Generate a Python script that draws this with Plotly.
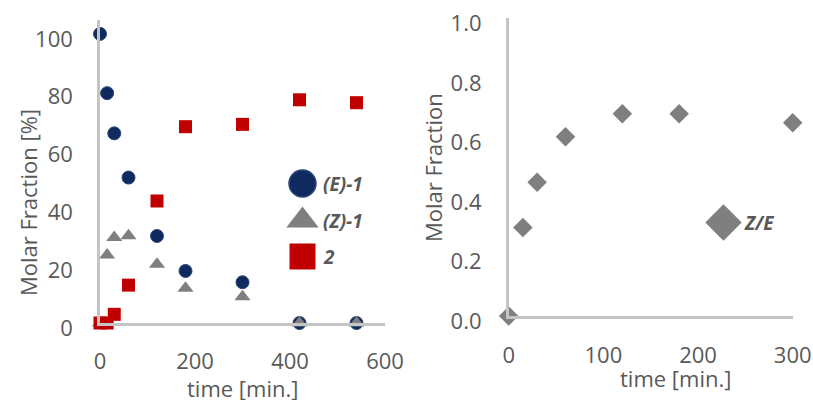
import plotly.graph_objects as go

# ---- data ----
time_left = [0, 15, 30, 60, 120, 180, 300, 420, 540]
e1 = [100, 79.5, 65.6, 50.3, 30.1, 18.0, 14.1, 0, 0]
z1 = [0, 23.5, 29.6, 30.2, 20.3, 12.0, 9.1, 0, 0]
p2 = [0, 0, 3.0, 13.1, 42.2, 67.9, 68.7, 77.2, 76.2]

time_right = [0, 15, 30, 60, 120, 180, 300]
ze = [0.0, 0.297, 0.449, 0.602, 0.679, 0.679, 0.649]

left_xticks = [0, 200, 400, 600]
left_yticks = [0, 20, 40, 60, 80, 100]
right_xticks = [0, 100, 200, 300]
right_yticks = [0.0, 0.2, 0.4, 0.6, 0.8, 1.0]
right_yticklabels = ["0.0", "0.2", "0.4", "0.6", "0.8", "1.0"]

W, H = 813, 400
NAVY = "#0e2a5f"
GREY = "#7f7f7f"
RED = "#c00000"
TXT = "#595959"
AXC = "#c4c4c4"
FONT = "Open Sans"

def px(x):
    return x / W

def py(y):
    return 1 - y / H

fig = go.Figure()

fig.add_trace(go.Scatter(x=time_left, y=e1, mode="markers", cliponaxis=False,
                         marker=dict(symbol="circle", size=13, color=NAVY,
                                     line=dict(color="#2c4676", width=1)),
                         xaxis="x", yaxis="y", showlegend=False))
fig.add_trace(go.Scatter(x=time_left, y=z1, mode="markers", cliponaxis=False,
                         marker=dict(symbol="triangle-up", size=14, color=GREY, line=dict(width=0)),
                         xaxis="x", yaxis="y", showlegend=False))
fig.add_trace(go.Scatter(x=time_left, y=p2, mode="markers", cliponaxis=False,
                         marker=dict(symbol="square", size=13, color=RED, line=dict(width=0)),
                         xaxis="x", yaxis="y", showlegend=False))
fig.add_trace(go.Scatter(x=time_right, y=ze, mode="markers", cliponaxis=False,
                         marker=dict(symbol="diamond", size=15, color=GREY, line=dict(width=0)),
                         xaxis="x2", yaxis="y2", showlegend=False))

# legend glyphs on a hidden 0..1 overlay axis covering the whole page
leg_names = ["(E)-1", "(Z)-1", "2", "Z/E"]
leg_symbols = ["circle", "triangle-up", "square", "diamond"]
leg_colors = [NAVY, GREY, RED, GREY]
leg_x = [302.5, 302.5, 302.5, 723.5]
leg_y = [183.5, 220.5, 256.5, 222.5]
leg_sizes = [27, 28, 26, 28]
for name, sym, col, lx, ly, s in zip(leg_names, leg_symbols, leg_colors, leg_x, leg_y, leg_sizes):
    fig.add_trace(go.Scatter(x=[px(lx)], y=[py(ly)], mode="markers", cliponaxis=False,
                             marker=dict(symbol=sym, size=s, color=col,
                                         line=dict(color="#2c4676" if col == NAVY else col, width=1.5 if col == NAVY else 0)),
                             xaxis="x3", yaxis="y3", showlegend=False, hoverinfo="skip"))
    fig.add_annotation(x=px(lx + 18), y=py(ly), xref="paper", yref="paper",
                       text="<b><i>%s</i></b>" % name, showarrow=False,
                       xanchor="left", yanchor="middle",
                       font=dict(family=FONT, size=19, color=TXT))

axis_common = dict(showgrid=False, zeroline=False, showline=True, linecolor=AXC,
                   linewidth=2.5, layer="above traces", ticks="", automargin=False,
                   tickfont=dict(family=FONT, size=22, color=TXT))

fig.update_layout(
    width=W, height=H,
    margin=dict(l=0, r=0, t=0, b=0, autoexpand=False),
    paper_bgcolor="white", plot_bgcolor="rgba(0,0,0,0)",
    xaxis=dict(domain=[px(100), px(385)], range=[0, 600], tickvals=left_xticks,
               anchor="y", ticklabelstandoff=17, **axis_common),
    yaxis=dict(domain=[py(323), py(20)], range=[0, 104.8], tickvals=left_yticks,
               anchor="x", ticklabelstandoff=20, ticklabelshift=5, **axis_common),
    xaxis2=dict(domain=[px(508.7), px(792.7)], range=[0, 300], tickvals=right_xticks,
                anchor="y2", ticklabelstandoff=18, **axis_common),
    yaxis2=dict(domain=[py(316), py(18)], range=[0, 1.001], tickvals=right_yticks,
                ticktext=right_yticklabels, anchor="x2", ticklabelstandoff=20,
                ticklabelshift=5, **axis_common),
    xaxis3=dict(domain=[0, 1], range=[0, 1], visible=False, anchor="y3", fixedrange=True,
                automargin=False),
    yaxis3=dict(domain=[0, 1], range=[0, 1], visible=False, anchor="x3", fixedrange=True,
                automargin=False),
)

# axis titles
fig.add_annotation(x=px(242), y=py(388), xref="paper", yref="paper", text="time [min.]",
                   showarrow=False, xanchor="center", yanchor="middle",
                   font=dict(family=FONT, size=22, color=TXT))
fig.add_annotation(x=px(675), y=py(378), xref="paper", yref="paper", text="time [min.]",
                   showarrow=False, xanchor="center", yanchor="middle",
                   font=dict(family=FONT, size=22, color=TXT))
fig.add_annotation(x=px(28), y=py(203), xref="paper", yref="paper", text="Molar Fraction [%]",
                   showarrow=False, xanchor="center", yanchor="middle", textangle=-90,
                   font=dict(family=FONT, size=22, color=TXT))
fig.add_annotation(x=px(433), y=py(168), xref="paper", yref="paper", text="Molar Fraction",
                   showarrow=False, xanchor="center", yanchor="middle", textangle=-90,
                   font=dict(family=FONT, size=22, color=TXT))

fig.write_html("out.html", config={"displayModeBar": False},
               post_script="document.body.style.margin='0px';")
